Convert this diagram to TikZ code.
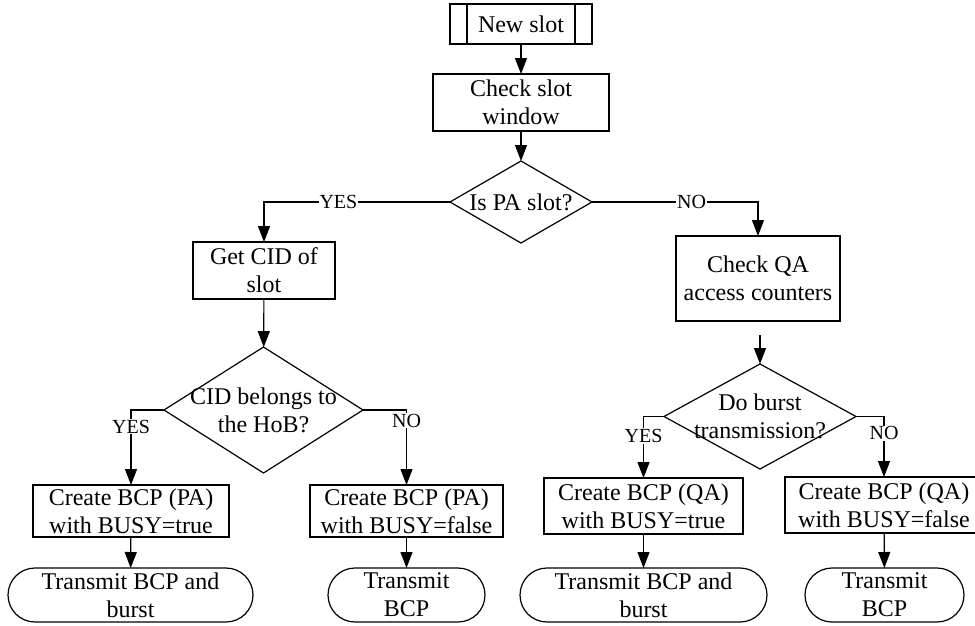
\documentclass[tikz,border=0pt]{standalone}
\usepackage{fontspec}
\setmainfont{Liberation Serif}
\usetikzlibrary{arrows.meta,shapes.geometric}

\tikzset{
  flow/.style={line width=1.2pt, draw=black},
  arr/.style={flow, -{Triangle[length=16pt,width=12pt]}},
  procbox/.style={draw, line width=1.2pt, rectangle, inner sep=0pt, outer sep=0pt,
    align=center, font=\fontsize{24}{28}\selectfont},
  termbox/.style={procbox, rounded corners=27pt},
  decision/.style={draw, line width=1.2pt, diamond, inner sep=0pt, outer sep=0pt},
  dtext/.style={align=center, font=\fontsize{24}{28}\selectfont},
  lab/.style={fill=white, inner sep=1pt, font=\fontsize{20}{22}\selectfont},
}

\begin{document}
\begin{tikzpicture}[x=1pt, y=-1pt]
  \useasboundingbox (0,0) rectangle (975,625);

  % start: predefined process
  \node[procbox, minimum width=142pt, minimum height=40pt] (ns) at (521,24) {New slot};
  \draw[flow] ([xshift=17pt]ns.north west) -- ([xshift=17pt]ns.south west);
  \draw[flow] ([xshift=-17pt]ns.north east) -- ([xshift=-17pt]ns.south east);

  \node[procbox, minimum width=176pt, minimum height=57pt] (csw) at (521,102.5) {Check slot\\window};

  % first decision
  \node[decision, minimum width=142pt, minimum height=82pt] (d1) at (521,202) {};
  \node[dtext] (d1t) at (d1.center) {Is PA slot?};

  % PA branch
  \node[procbox, minimum width=142pt, minimum height=57pt] (gc) at (264,270.5) {Get CID of\\slot};
  \node[decision, minimum width=199pt, minimum height=126pt] (d2) at (263.5,410) {};
  \node[dtext] (d2t) at (d2.center) {CID belongs to\\the HoB?};

  \node[procbox, minimum width=196pt, minimum height=52pt] (pat) at (131,511) {Create BCP (PA)\\with BUSY=true};
  \node[procbox, minimum width=193pt, minimum height=52pt] (paf) at (406.5,511) {Create BCP (PA)\\with BUSY=false};
  \node[termbox, minimum width=245pt, minimum height=54pt] (t1) at (130.5,595) {Transmit BCP and\\burst};
  \node[termbox, minimum width=157pt, minimum height=54pt] (t2) at (406.5,595) {Transmit\\BCP};

  % QA branch
  \node[procbox, minimum width=164pt, minimum height=85pt] (cqa) at (758,278.5) {Check QA\\access counters};
  \coordinate (cqab) at (760,335);
  \node[decision, minimum width=192pt, minimum height=105pt] (d3) at (760,416.5) {};
  \node[dtext] (d3t) at (d3.center) {Do burst\\transmission?};

  \node[procbox, minimum width=199pt, minimum height=56pt] (qat) at (643.5,506) {Create BCP (QA)\\with BUSY=true};
  \node[procbox, minimum width=198pt, minimum height=56pt] (qaf) at (884,505) {Create BCP (QA)\\with BUSY=false};
  \node[termbox, minimum width=247pt, minimum height=54pt] (t3) at (643.5,595) {Transmit BCP and\\burst};
  \node[termbox, minimum width=159pt, minimum height=54pt] (t4) at (884.5,595) {Transmit\\BCP};

  % connectors
  \draw[arr] (ns) -- (csw);
  \draw[arr] (csw) -- (d1);
  \draw[arr] (d1.west) -| node[lab, pos=0.30] {YES} (gc.north);
  \draw[arr] (d1.east) -| node[lab, pos=0.30] {NO} (cqa.north);
  \draw[arr] (gc) -- (d2);
  \draw[arr] (cqab) -- (d3.north);

  \draw[arr] (d2.west) -| node[lab, pos=0.61] {YES} (pat.north);
  \draw[arr] (d2.east) -| node[lab, pos=0.57] {NO} (paf.north);
  \draw[arr] (d3.west) -| node[lab, pos=0.66] {YES} (qat.north);
  \draw[arr] (d3.east) -| node[lab, pos=0.64] {NO} (qaf.north);

  \draw[arr] (pat) -- (t1);
  \draw[arr] (paf) -- (t2);
  \draw[arr] (qat) -- (t3);
  \draw[arr] (qaf) -- (t4);
\end{tikzpicture}
\end{document}
